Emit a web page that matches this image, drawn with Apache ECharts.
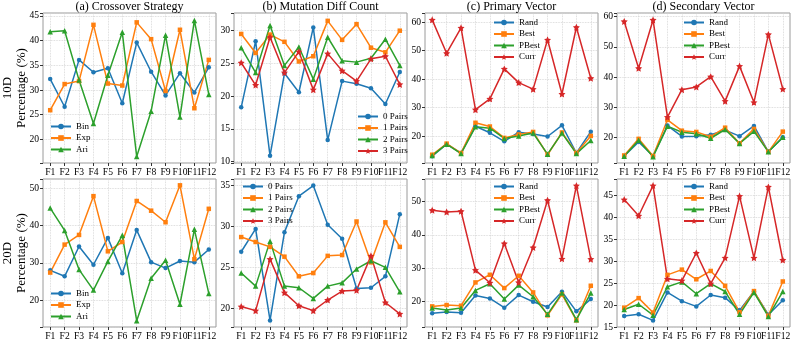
<!DOCTYPE html>
<html>
<head>
<meta charset="utf-8">
<title>Strategy percentages</title>
<script src="https://cdn.jsdelivr.net/npm/echarts@6/dist/echarts.min.js"></script>
<style>
  html, body { margin: 0; padding: 0; background: #fff; }
  #chart { width: 793px; height: 342px; }
</style>
</head>
<body>
<div id="chart"></div>
<script>
const funcs = ['F1', 'F2', 'F3', 'F4', 'F5', 'F6', 'F7', 'F8', 'F9', 'F10', 'F11', 'F12'];

// 10D
const crossBin10 = [32.2, 26.6, 36.1, 33.6, 34.4, 27.3, 39.6, 33.7, 28.9, 33.4, 29.5, 34.6];
const crossExp10 = [25.9, 31.2, 31.8, 43.2, 31.3, 30.9, 43.7, 40.3, 29.8, 42.2, 26.3, 36.1];
const crossAri10 = [41.8, 42.0, 32.0, 23.2, 33.0, 41.7, 16.5, 25.7, 41.1, 24.5, 44.1, 29.1];

const mutP0_10 = [18.3, 28.4, 10.9, 23.5, 20.6, 30.5, 13.3, 22.3, 21.9, 21.2, 18.8, 23.7];
const mutP1_10 = [29.5, 26.6, 29.4, 28.3, 25.3, 26.1, 31.5, 28.6, 31.0, 27.4, 26.7, 30.0];
const mutP2_10 = [27.4, 23.6, 30.8, 24.7, 27.5, 22.6, 29.0, 25.4, 25.2, 25.8, 28.7, 24.7];
const mutP3_10 = [25.1, 21.7, 29.0, 23.6, 26.8, 21.0, 26.5, 23.9, 22.3, 25.7, 26.1, 21.8];

const primRand10 = [13.0, 17.2, 14.1, 23.5, 21.2, 18.2, 21.4, 20.8, 19.9, 23.8, 14.1, 21.6];
const primBest10 = [13.5, 17.4, 14.1, 24.7, 23.4, 19.4, 20.6, 21.5, 13.5, 21.3, 14.1, 20.1];
const primPBest10 = [13.2, 17.2, 13.9, 23.3, 22.8, 19.2, 20.1, 21.1, 13.7, 21.1, 13.9, 18.5];
const primCurr10 = [60.8, 49.1, 58.0, 29.3, 33.1, 43.6, 38.8, 36.5, 53.8, 34.8, 58.2, 40.3];

const secRand10 = [13.8, 18.5, 13.8, 23.9, 20.3, 20.4, 20.9, 22.4, 20.4, 23.8, 15.2, 20.0];
const secBest10 = [14.0, 19.5, 13.8, 25.8, 22.2, 21.8, 20.2, 23.2, 18.0, 22.8, 15.2, 21.9];
const secPBest10 = [13.7, 19.0, 13.6, 23.7, 21.7, 21.2, 19.7, 22.6, 18.0, 22.0, 15.2, 20.0];
const secCurr10 = [58.4, 42.9, 58.9, 26.7, 35.8, 36.7, 40.1, 32.0, 43.6, 31.6, 54.1, 36.0];

// 20D
const crossBin20 = [28.0, 26.4, 34.4, 29.5, 36.7, 27.2, 38.8, 30.2, 28.6, 30.5, 30.2, 33.6];
const crossExp20 = [27.4, 34.9, 37.5, 47.9, 33.1, 35.6, 46.6, 44.0, 40.9, 50.8, 31.0, 44.5];
const crossAri20 = [44.7, 38.7, 28.2, 22.7, 30.4, 37.4, 14.5, 25.9, 30.7, 18.9, 39.0, 21.8];

const mutP0_20 = [26.9, 29.7, 18.5, 29.3, 33.7, 35.0, 30.2, 28.5, 22.4, 22.5, 23.9, 31.5];
const mutP1_20 = [28.7, 28.1, 27.5, 26.3, 23.9, 24.3, 26.4, 26.5, 30.6, 25.6, 30.5, 27.5];
const mutP2_20 = [24.3, 22.7, 28.2, 22.7, 22.5, 21.2, 22.7, 23.1, 24.8, 25.8, 25.0, 22.0];
const mutP3_20 = [20.2, 19.7, 26.0, 21.9, 20.3, 19.7, 21.0, 22.1, 22.2, 26.4, 20.7, 19.3];

const primRand20 = [16.4, 16.8, 16.6, 21.8, 20.9, 18.1, 21.9, 19.9, 18.3, 22.9, 17.0, 20.7];
const primBest20 = [18.5, 18.9, 18.7, 25.7, 28.0, 24.0, 27.7, 22.7, 15.8, 22.1, 14.3, 24.7];
const primPBest20 = [18.0, 17.4, 18.0, 23.3, 25.3, 20.7, 24.9, 21.4, 16.1, 22.5, 14.5, 22.5];
const primCurr20 = [47.4, 46.9, 47.1, 29.4, 25.6, 37.4, 25.7, 36.2, 50.4, 32.8, 54.8, 32.7];

const secRand20 = [17.5, 17.9, 16.5, 22.9, 20.9, 19.7, 22.3, 21.7, 18.8, 23.1, 17.8, 21.1];
const secBest20 = [19.4, 21.6, 18.3, 26.9, 28.1, 25.9, 27.8, 24.4, 18.4, 23.2, 17.6, 25.4];
const secPBest20 = [19.0, 20.2, 17.7, 24.2, 25.3, 22.6, 24.9, 23.1, 17.9, 22.9, 17.4, 23.1];
const secCurr20 = [44.1, 40.4, 47.3, 26.0, 25.6, 31.9, 24.9, 30.8, 44.9, 30.8, 47.0, 30.3];

const panelTitles = ['(a) Crossover Strategy', '(b) Mutation Diff Count', '(c) Primary Vector', '(d) Secondary Vector'];
const rowLabels = ['10D\nPercentage (%)', '20D\nPercentage (%)'];
const yRanges = [[15.2, 45.6], [9.8, 32.7], [10.6, 63.2], [11.5, 61.2],
                 [12.8, 52.5], [17.7, 35.8], [12.3, 56.8], [15.0, 48.8]];
const yTickSteps = [5, 5, 10, 10, 10, 5, 10, 5];

const panels = [
  [['Bin', crossBin10], ['Exp', crossExp10], ['Ari', crossAri10]],
  [['0 Pairs', mutP0_10], ['1 Pairs', mutP1_10], ['2 Pairs', mutP2_10], ['3 Pairs', mutP3_10]],
  [['Rand', primRand10], ['Best', primBest10], ['PBest', primPBest10], ['Curr', primCurr10]],
  [['Rand', secRand10], ['Best', secBest10], ['PBest', secPBest10], ['Curr', secCurr10]],
  [['Bin', crossBin20], ['Exp', crossExp20], ['Ari', crossAri20]],
  [['0 Pairs', mutP0_20], ['1 Pairs', mutP1_20], ['2 Pairs', mutP2_20], ['3 Pairs', mutP3_20]],
  [['Rand', primRand20], ['Best', primBest20], ['PBest', primPBest20], ['Curr', primCurr20]],
  [['Rand', secRand20], ['Best', secBest20], ['PBest', secPBest20], ['Curr', secCurr20]]
];

const FONT = '"Liberation Serif", "DejaVu Serif", serif';
const colors = ['#1f77b4', '#ff7f0e', '#2ca02c', '#d62728'];
const star = 'path://M0,-10L2.9,-4L9.5,-3.1L4.7,1.5L5.9,8.1L0,5L-5.9,8.1L-4.7,1.5L-9.5,-3.1L-2.9,-4Z';
const symbols = ['circle', 'rect', 'triangle', star];
const symbolSizes = [4.5, 4.5, 5.5, 7];

const colLeft = [43, 234, 425, 617];
const colWidth = 173;
const rowTop = [13, 179];
const rowHeight = [150, 148];
const legendPos = [[50, 122], [357, 112], [493, 18], [683, 18], [50, 289], [242, 182], [493, 182], [683, 182]];

const grids = [], xAxes = [], yAxes = [], series = [], legends = [], graphics = [];

panels.forEach((panel, i) => {
  const row = Math.floor(i / 4), col = i % 4;
  const step = yTickSteps[i];
  grids.push({
    left: colLeft[col], top: rowTop[row], width: colWidth, height: rowHeight[row],
    show: true, borderColor: '#9a9a9a', borderWidth: 1, backgroundColor: 'transparent',
    containLabel: false, outerBoundsMode: 'none'
  });
  xAxes.push({
    type: 'category', gridIndex: i, data: funcs, boundaryGap: true,
    axisLine: { show: false },
    axisTick: { show: true, alignWithLabel: true, length: 3, lineStyle: { color: '#333' } },
    axisLabel: { interval: 0, margin: 4, color: '#000', fontFamily: FONT, fontSize: 9.6 },
    splitLine: { show: true, alignWithLabel: true, lineStyle: { color: '#d0d0d0', type: 'dotted', width: 0.8 } }
  });
  yAxes.push({
    type: 'value', gridIndex: i, min: yRanges[i][0], max: yRanges[i][1],
    splitNumber: Math.round((yRanges[i][1] - yRanges[i][0]) / step),
    axisLine: { show: false },
    axisTick: { show: true, length: 3, lineStyle: { color: '#333' } },
    axisLabel: {
      margin: 4, color: '#000', fontFamily: FONT, fontSize: 9.6,
      formatter: v => (Math.abs(v / step - Math.round(v / step)) < 1e-6 ? String(Math.round(v)) : '')
    },
    splitLine: { show: true, lineStyle: { color: '#d0d0d0', type: 'dotted', width: 0.8 } }
  });
  panel.forEach(([name, values], k) => {
    series.push({
      type: 'line', name: name, data: values, xAxisIndex: i, yAxisIndex: i,
      symbol: symbols[k], symbolSize: symbolSizes[k], showSymbol: true,
      color: colors[k], lineStyle: { width: 1.5 }, itemStyle: { color: colors[k] },
      emphasis: { disabled: true }, silent: true
    });
  });
  legends.push({
    left: legendPos[i][0], top: legendPos[i][1], orient: 'vertical',
    itemWidth: 20, itemHeight: 7, itemGap: 2.5, padding: 0, selectedMode: false,
    textStyle: { color: '#000', fontFamily: FONT, fontSize: 9 },
    data: panel.map(p => p[0])
  });
});

panelTitles.forEach((t, col) => {
  graphics.push({
    type: 'text', x: colLeft[col] + colWidth / 2, y: 7, silent: true,
    style: { text: t, fill: '#000', fontFamily: FONT, fontSize: 12, align: 'center', verticalAlign: 'middle' }
  });
});
rowLabels.forEach((t, row) => {
  graphics.push({
    type: 'text', x: 15, y: rowTop[row] + rowHeight[row] / 2, rotation: Math.PI / 2, silent: true,
    style: { text: t, fill: '#000', fontFamily: FONT, fontSize: 13, lineHeight: 14, align: 'center', verticalAlign: 'middle' }
  });
});

const chart = echarts.init(document.getElementById('chart'), null, { renderer: 'canvas' });
chart.setOption({
  animation: false,
  backgroundColor: '#fff',
  grid: grids,
  xAxis: xAxes,
  yAxis: yAxes,
  legend: legends,
  series: series,
  graphic: graphics
});
</script>
</body>
</html>
